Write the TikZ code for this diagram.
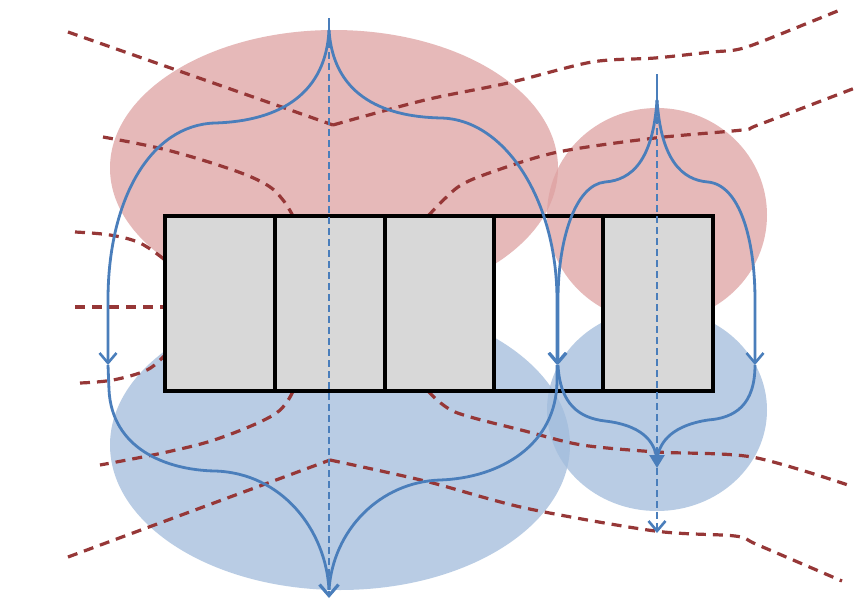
\documentclass[tikz,border=0pt]{standalone}
\usetikzlibrary{arrows.meta}
\definecolor{pinkfill}{RGB}{222,162,162}
\definecolor{bluefill}{RGB}{162,188,220}
\definecolor{cellgray}{RGB}{216,216,216}
\definecolor{fieldblue}{RGB}{74,126,187}
\definecolor{dashred}{RGB}{150,55,55}
\tikzset{
  pinkblob/.style={fill=pinkfill, fill opacity=0.75},
  blueblob/.style={fill=bluefill, fill opacity=0.75},
  reddash/.style={draw=dashred, line width=3.2pt, dash pattern=on 10pt off 7pt},
  fieldline/.style={draw=fieldblue, line width=2.8pt},
  axisline/.style={draw=fieldblue, line width=2.6pt, dash pattern=on 7pt off 4pt},
  openhead/.style={-{Straight Barb[length=10pt,width=17pt,line width=2.6pt]}},
  bighead/.style={-{Straight Barb[length=11pt,width=19pt,line width=3.2pt]}},
  filledhead/.style={-{Triangle[length=13pt,width=15pt]}},
  cellbox/.style={fill=cellgray},
  border/.style={draw=black, line width=4pt}
}
\begin{document}
\begin{tikzpicture}[x=1pt,y=-1pt]
\useasboundingbox (0,0) rectangle (855,598);
\fill[white] (0,0) rectangle (855,598);

% ellipses
\path[pinkblob] (334,168) ellipse [x radius=224pt, y radius=138pt];
\path[pinkblob] (657,215) ellipse [x radius=110pt, y radius=107pt];
\path[blueblob] (340,445) ellipse [x radius=230pt, y radius=145pt];
\path[blueblob] (657,410) ellipse [x radius=110pt, y radius=101pt];

% red dashed lines
\draw[reddash] (68,32) -- (333,125) plot[smooth, tension=0.5] coordinates {(333,125) (425,100) (508,83) (592,62) (655,58) (712,52) (735,50) (758,43) (840,10)};
\draw[reddash] plot[smooth, tension=0.6] coordinates {(103,137) (167,150) (233,170) (267,185) (283,200) (293,216)};
\draw[reddash] plot[smooth, tension=0.5] coordinates {(428,216) (458,187) (492,172) (558,152) (655,138) (742,130) (758,125) (855,88)};
\draw[reddash] plot[smooth, tension=0.6] coordinates {(75,232) (110,235) (140,243) (165,260)};
\draw[reddash] (75,307) -- (165,307);
\draw[reddash] plot[smooth, tension=0.6] coordinates {(80,383) (113,380) (147,370) (165,355)};
\draw[reddash] plot[smooth, tension=0.6] coordinates {(293,391) (275,414) (220,438) (167,452) (100,465)};
\draw[reddash] (68,557) -- (330,460) plot[smooth, tension=0.5] coordinates {(330,460) (425,481) (525,508) (655,531) (735,536) (758,545) (842,581)};
\draw[reddash] plot[smooth, tension=0.5] coordinates {(428,391) (455,412) (525,431) (582,445) (657,452) (752,457) (848,485)};

% cells
\coordinate (r1) at (165,216);
\coordinate (r2) at (713,391);
\path[cellbox] (165,216) rectangle (275,391);
\path[cellbox] (275,216) rectangle (385,391);
\path[cellbox] (385,216) rectangle (494,391);
\path[cellbox] (603,216) rectangle (713,391);
\draw[border] (r1) rectangle (r2);
\foreach \xx in {275,385,494,603} \draw[border] (\xx,216) -- (\xx,391);

% big field system
\coordinate (bigtop) at (329,18);
\coordinate (bigcusp) at (329,30);
\coordinate (bigbot) at (329,598);
\coordinate (bigL) at (108,365);
\coordinate (bigR) at (557,365);
\coordinate (bigmeet) at (329,590);
\draw[fieldline] (bigtop) -- (bigcusp);
\draw[axisline, bighead] (bigcusp) -- (bigbot);
\draw[fieldline, openhead] (bigcusp) .. controls (326,92) and (282,121) .. (215,123) .. controls (150,125) and (108,200) .. (108,300) -- (bigL);
\draw[fieldline] (bigL) -- (109,390) .. controls (112,448) and (165,470) .. (215,471) .. controls (282,473) and (326,530) .. (bigmeet);
\draw[fieldline, openhead] (bigcusp) .. controls (333,92) and (378,117) .. (442,118) .. controls (505,120) and (557,200) .. (557,300) -- (bigR);
\draw[fieldline] (bigR) -- (557,380) .. controls (557,445) and (500,478) .. (440,480) .. controls (380,482) and (333,530) .. (bigmeet);

% small field system
\coordinate (smtop) at (657,74);
\coordinate (smcusp) at (657,100);
\coordinate (smL) at (558,365);
\coordinate (smR) at (755,365);
\coordinate (smmeet) at (657,460);
\coordinate (smtri) at (657,468);
\coordinate (smbot) at (657,533);
\draw[fieldline] (smtop) -- (smcusp);
\draw[axisline, filledhead] (657,106) -- (smtri);
\draw[axisline, openhead] (smtri) -- (smbot);
\draw[fieldline, openhead] (smcusp) .. controls (653,160) and (632,180) .. (605,182) .. controls (575,185) and (558,240) .. (558,300) -- (smL);
\draw[fieldline] (smL) .. controls (560,405) and (580,418) .. (605,421) .. controls (640,425) and (655,440) .. (smmeet);
\draw[fieldline, openhead] (smcusp) .. controls (661,160) and (682,180) .. (708,182) .. controls (740,185) and (755,240) .. (755,300) -- (smR);
\draw[fieldline] (smR) .. controls (755,405) and (735,418) .. (708,420) .. controls (675,425) and (659,440) .. (smmeet);
\end{tikzpicture}
\end{document}
